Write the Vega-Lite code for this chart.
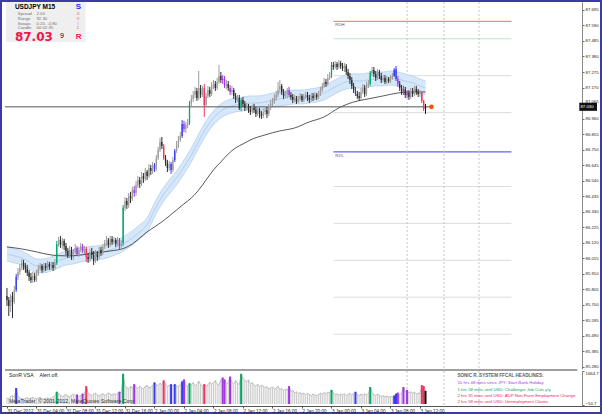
{
"$schema":"https://vega.github.io/schema/vega-lite/v6.json",
"width":602,"height":414,"autosize":{"type":"none"},"padding":0,"background":"white",
"config":{"view":{"stroke":"#3b3ba6","strokeWidth":4},"axis":{"grid":false,"labelOverlap":false,"labelBound":false}},
"datasets":{
"bars":[
{"i":0,"o":85.759,"h":85.813,"l":85.691,"c":85.732,"t":"d","v":300},
{"i":1,"o":85.732,"h":85.752,"l":85.623,"c":85.691,"t":"d","v":260},
{"i":2,"o":85.691,"h":85.772,"l":85.651,"c":85.759,"t":"u","v":380},
{"i":3,"o":85.759,"h":85.786,"l":85.610,"c":85.718,"t":"d","v":420},
{"i":4,"o":85.718,"h":85.827,"l":85.705,"c":85.799,"t":"u","v":350},
{"i":5,"o":85.799,"h":85.908,"l":85.786,"c":85.887,"t":"b","v":806},
{"i":6,"o":85.887,"h":85.948,"l":85.867,"c":85.921,"t":"u","v":380},
{"i":7,"o":85.921,"h":85.975,"l":85.901,"c":85.948,"t":"u","v":300},
{"i":8,"o":85.948,"h":86.009,"l":85.935,"c":85.982,"t":"u","v":260},
{"i":9,"o":85.982,"h":86.003,"l":85.935,"c":85.962,"t":"d","v":240},
{"i":10,"o":85.962,"h":85.982,"l":85.915,"c":85.942,"t":"d","v":280},
{"i":11,"o":85.942,"h":85.969,"l":85.894,"c":85.915,"t":"d","v":320},
{"i":12,"o":85.915,"h":85.935,"l":85.860,"c":85.887,"t":"d","v":260},
{"i":13,"o":85.887,"h":85.915,"l":85.847,"c":85.867,"t":"d","v":300},
{"i":14,"o":85.867,"h":85.921,"l":85.847,"c":85.894,"t":"u","v":340},
{"i":15,"o":85.894,"h":85.915,"l":85.854,"c":85.867,"t":"d","v":280},
{"i":16,"o":85.867,"h":85.935,"l":85.854,"c":85.908,"t":"u","v":250},
{"i":17,"o":85.908,"h":85.969,"l":85.894,"c":85.942,"t":"u","v":300},
{"i":18,"o":85.942,"h":85.982,"l":85.928,"c":85.962,"t":"u","v":330},
{"i":19,"o":85.962,"h":85.975,"l":85.915,"c":85.935,"t":"d","v":270},
{"i":20,"o":85.935,"h":85.982,"l":85.921,"c":85.962,"t":"u","v":240},
{"i":21,"o":85.962,"h":85.982,"l":85.928,"c":85.948,"t":"d","v":290},
{"i":22,"o":85.948,"h":85.996,"l":85.935,"c":85.975,"t":"u","v":310},
{"i":23,"o":85.975,"h":85.989,"l":85.935,"c":85.955,"t":"d","v":260},
{"i":24,"o":85.955,"h":85.989,"l":85.935,"c":85.969,"t":"u","v":280},
{"i":25,"o":85.969,"h":85.989,"l":85.928,"c":85.948,"t":"d","v":350},
{"i":26,"o":85.948,"h":86.009,"l":85.935,"c":85.982,"t":"u","v":420},
{"i":27,"o":85.982,"h":86.131,"l":85.969,"c":86.111,"t":"g","v":615},
{"i":28,"o":86.111,"h":86.158,"l":86.091,"c":86.138,"t":"u","v":520},
{"i":29,"o":86.138,"h":86.165,"l":86.084,"c":86.104,"t":"d","v":450},
{"i":30,"o":86.104,"h":86.151,"l":86.077,"c":86.131,"t":"u","v":380},
{"i":31,"o":86.131,"h":86.145,"l":86.070,"c":86.097,"t":"d","v":420},
{"i":32,"o":86.097,"h":86.118,"l":86.036,"c":86.063,"t":"d","v":480},
{"i":33,"o":86.063,"h":86.084,"l":86.016,"c":86.036,"t":"d","v":400},
{"i":34,"o":86.036,"h":86.097,"l":86.016,"c":86.070,"t":"u","v":360},
{"i":35,"o":86.070,"h":86.091,"l":86.003,"c":86.023,"t":"d","v":440},
{"i":36,"o":86.023,"h":86.077,"l":86.003,"c":86.057,"t":"u","v":500},
{"i":37,"o":86.057,"h":86.111,"l":86.043,"c":86.084,"t":"u","v":420},
{"i":38,"o":86.084,"h":86.097,"l":86.030,"c":86.043,"t":"m","v":472},
{"i":39,"o":86.043,"h":86.091,"l":86.023,"c":86.070,"t":"u","v":380},
{"i":40,"o":86.070,"h":86.118,"l":86.057,"c":86.097,"t":"u","v":430},
{"i":41,"o":86.097,"h":86.111,"l":86.050,"c":86.063,"t":"m","v":520},
{"i":42,"o":86.063,"h":86.097,"l":86.043,"c":86.077,"t":"u","v":460},
{"i":43,"o":86.077,"h":86.091,"l":85.989,"c":86.023,"t":"r","v":900},
{"i":44,"o":86.023,"h":86.050,"l":85.982,"c":86.009,"t":"d","v":560},
{"i":45,"o":86.009,"h":86.077,"l":85.989,"c":86.057,"t":"u","v":480},
{"i":46,"o":86.057,"h":86.084,"l":86.009,"c":86.036,"t":"d","v":420},
{"i":47,"o":86.036,"h":86.063,"l":85.969,"c":85.996,"t":"d","v":500},
{"i":48,"o":85.996,"h":86.070,"l":85.982,"c":86.043,"t":"u","v":540},
{"i":49,"o":86.043,"h":86.063,"l":85.996,"c":86.023,"t":"d","v":460},
{"i":50,"o":86.023,"h":86.091,"l":86.009,"c":86.070,"t":"u","v":400},
{"i":51,"o":86.070,"h":86.091,"l":86.030,"c":86.050,"t":"d","v":470},
{"i":52,"o":86.050,"h":86.111,"l":86.036,"c":86.091,"t":"u","v":520},
{"i":53,"o":86.091,"h":86.138,"l":86.077,"c":86.118,"t":"u","v":440},
{"i":54,"o":86.118,"h":86.165,"l":86.097,"c":86.138,"t":"u","v":480},
{"i":55,"o":86.138,"h":86.151,"l":86.084,"c":86.104,"t":"d","v":560},
{"i":56,"o":86.104,"h":86.165,"l":86.091,"c":86.145,"t":"u","v":500},
{"i":57,"o":86.145,"h":86.165,"l":86.104,"c":86.124,"t":"d","v":450},
{"i":58,"o":86.124,"h":86.158,"l":86.111,"c":86.138,"t":"u","v":520},
{"i":59,"o":86.138,"h":86.151,"l":86.091,"c":86.111,"t":"d","v":470},
{"i":60,"o":86.111,"h":86.158,"l":86.097,"c":86.138,"t":"u","v":540},
{"i":61,"o":86.138,"h":86.151,"l":86.077,"c":86.097,"t":"m","v":615},
{"i":62,"o":86.097,"h":86.138,"l":86.084,"c":86.118,"t":"u","v":560},
{"i":63,"o":86.118,"h":86.375,"l":86.097,"c":86.355,"t":"g","v":1520},
{"i":64,"o":86.355,"h":86.429,"l":86.334,"c":86.402,"t":"u","v":900},
{"i":65,"o":86.402,"h":86.422,"l":86.348,"c":86.375,"t":"d","v":820},
{"i":66,"o":86.375,"h":86.456,"l":86.355,"c":86.436,"t":"u","v":760},
{"i":67,"o":86.436,"h":86.463,"l":86.388,"c":86.416,"t":"d","v":880},
{"i":68,"o":86.416,"h":86.497,"l":86.402,"c":86.476,"t":"u","v":800},
{"i":69,"o":86.476,"h":86.503,"l":86.429,"c":86.456,"t":"m","v":1000},
{"i":70,"o":86.456,"h":86.537,"l":86.436,"c":86.510,"t":"u","v":850},
{"i":71,"o":86.510,"h":86.571,"l":86.490,"c":86.544,"t":"u","v":780},
{"i":72,"o":86.544,"h":86.564,"l":86.490,"c":86.517,"t":"d","v":900},
{"i":73,"o":86.517,"h":86.598,"l":86.503,"c":86.571,"t":"u","v":820},
{"i":74,"o":86.571,"h":86.591,"l":86.524,"c":86.551,"t":"d","v":760},
{"i":75,"o":86.551,"h":86.625,"l":86.537,"c":86.598,"t":"u","v":880},
{"i":76,"o":86.598,"h":86.612,"l":86.544,"c":86.571,"t":"d","v":940},
{"i":77,"o":86.571,"h":86.652,"l":86.558,"c":86.625,"t":"u","v":800},
{"i":78,"o":86.625,"h":86.646,"l":86.578,"c":86.605,"t":"d","v":860},
{"i":79,"o":86.605,"h":86.666,"l":86.585,"c":86.646,"t":"u","v":920},
{"i":80,"o":86.646,"h":86.659,"l":86.598,"c":86.619,"t":"b","v":1090},
{"i":81,"o":86.619,"h":86.713,"l":86.605,"c":86.693,"t":"u","v":980},
{"i":82,"o":86.693,"h":86.768,"l":86.680,"c":86.747,"t":"u","v":920},
{"i":83,"o":86.747,"h":86.829,"l":86.734,"c":86.801,"t":"u","v":1050},
{"i":84,"o":86.801,"h":86.835,"l":86.754,"c":86.774,"t":"d","v":960},
{"i":85,"o":86.774,"h":86.788,"l":86.680,"c":86.693,"t":"r","v":1190},
{"i":86,"o":86.693,"h":86.713,"l":86.639,"c":86.659,"t":"d","v":1000},
{"i":87,"o":86.659,"h":86.680,"l":86.598,"c":86.625,"t":"d","v":880},
{"i":88,"o":86.625,"h":86.673,"l":86.605,"c":86.652,"t":"u","v":940},
{"i":89,"o":86.652,"h":86.666,"l":86.585,"c":86.612,"t":"b","v":1000},
{"i":90,"o":86.612,"h":86.700,"l":86.598,"c":86.680,"t":"u","v":900},
{"i":91,"o":86.680,"h":86.754,"l":86.666,"c":86.740,"t":"b","v":1000},
{"i":92,"o":86.740,"h":86.808,"l":86.727,"c":86.781,"t":"u","v":920},
{"i":93,"o":86.781,"h":86.842,"l":86.761,"c":86.815,"t":"u","v":860},
{"i":94,"o":86.815,"h":86.869,"l":86.801,"c":86.842,"t":"u","v":980},
{"i":95,"o":86.842,"h":86.950,"l":86.829,"c":86.923,"t":"b","v":1140},
{"i":96,"o":86.923,"h":86.944,"l":86.869,"c":86.889,"t":"m","v":1235},
{"i":97,"o":86.889,"h":86.937,"l":86.862,"c":86.917,"t":"u","v":940},
{"i":98,"o":86.917,"h":86.957,"l":86.896,"c":86.930,"t":"u","v":880},
{"i":99,"o":86.930,"h":87.079,"l":86.917,"c":87.059,"t":"g","v":1045},
{"i":100,"o":87.059,"h":87.120,"l":87.045,"c":87.093,"t":"u","v":960},
{"i":101,"o":87.093,"h":87.147,"l":87.072,"c":87.120,"t":"u","v":1080},
{"i":102,"o":87.120,"h":87.174,"l":87.099,"c":87.147,"t":"u","v":900},
{"i":103,"o":87.147,"h":87.167,"l":87.079,"c":87.099,"t":"d","v":1000},
{"i":104,"o":87.099,"h":87.282,"l":87.086,"c":87.167,"t":"u","v":1150},
{"i":105,"o":87.167,"h":87.187,"l":87.099,"c":87.120,"t":"d","v":980},
{"i":106,"o":87.120,"h":87.181,"l":87.106,"c":87.153,"t":"u","v":900},
{"i":107,"o":87.167,"h":87.194,"l":86.971,"c":87.052,"t":"r","v":1000},
{"i":108,"o":87.052,"h":87.133,"l":87.032,"c":87.113,"t":"u","v":880},
{"i":109,"o":87.113,"h":87.181,"l":87.099,"c":87.153,"t":"u","v":960},
{"i":110,"o":87.153,"h":87.174,"l":87.106,"c":87.126,"t":"d","v":1100},
{"i":111,"o":87.126,"h":87.208,"l":87.113,"c":87.181,"t":"u","v":1000},
{"i":112,"o":87.181,"h":87.221,"l":87.160,"c":87.194,"t":"u","v":1060},
{"i":113,"o":87.194,"h":87.214,"l":87.147,"c":87.167,"t":"d","v":1180},
{"i":114,"o":87.167,"h":87.235,"l":87.153,"c":87.208,"t":"u","v":1000},
{"i":115,"o":87.208,"h":87.323,"l":87.194,"c":87.248,"t":"u","v":940},
{"i":116,"o":87.248,"h":87.275,"l":87.201,"c":87.221,"t":"d","v":1220},
{"i":117,"o":87.221,"h":87.255,"l":87.194,"c":87.228,"t":"m","v":1330},
{"i":118,"o":87.228,"h":87.248,"l":87.167,"c":87.181,"t":"m","v":1235},
{"i":119,"o":87.181,"h":87.221,"l":87.160,"c":87.194,"t":"u","v":1000},
{"i":120,"o":87.194,"h":87.214,"l":87.147,"c":87.167,"t":"d","v":1100},
{"i":121,"o":87.167,"h":87.187,"l":87.120,"c":87.140,"t":"m","v":1380},
{"i":122,"o":87.140,"h":87.181,"l":87.120,"c":87.153,"t":"u","v":1100},
{"i":123,"o":87.153,"h":87.167,"l":87.093,"c":87.113,"t":"d","v":1000},
{"i":124,"o":87.113,"h":87.133,"l":87.065,"c":87.086,"t":"d","v":1180},
{"i":125,"o":87.086,"h":87.120,"l":87.072,"c":87.099,"t":"u","v":1060},
{"i":126,"o":87.099,"h":87.120,"l":87.018,"c":87.032,"t":"d","v":960},
{"i":127,"o":87.032,"h":87.099,"l":87.011,"c":87.086,"t":"g","v":1520},
{"i":128,"o":87.086,"h":87.106,"l":87.038,"c":87.059,"t":"d","v":1300},
{"i":129,"o":87.059,"h":87.079,"l":87.011,"c":87.032,"t":"d","v":1200},
{"i":130,"o":87.032,"h":87.065,"l":87.018,"c":87.045,"t":"u","v":1100},
{"i":131,"o":87.045,"h":87.059,"l":86.998,"c":87.018,"t":"d","v":1220},
{"i":132,"o":87.018,"h":87.045,"l":86.984,"c":87.005,"t":"d","v":1000},
{"i":133,"o":87.005,"h":87.052,"l":86.991,"c":87.032,"t":"u","v":1080},
{"i":134,"o":87.032,"h":87.059,"l":86.998,"c":87.018,"t":"d","v":960},
{"i":135,"o":87.018,"h":87.038,"l":86.971,"c":86.991,"t":"d","v":900},
{"i":136,"o":86.991,"h":87.045,"l":86.977,"c":87.018,"t":"u","v":1000},
{"i":137,"o":87.018,"h":87.032,"l":86.964,"c":86.991,"t":"d","v":860},
{"i":138,"o":86.991,"h":87.011,"l":86.957,"c":86.977,"t":"d","v":940},
{"i":139,"o":86.977,"h":87.025,"l":86.964,"c":87.005,"t":"u","v":900},
{"i":140,"o":87.005,"h":87.045,"l":86.984,"c":87.018,"t":"u","v":820},
{"i":141,"o":87.018,"h":87.038,"l":86.964,"c":86.991,"t":"d","v":880},
{"i":142,"o":86.991,"h":87.059,"l":86.977,"c":87.032,"t":"u","v":760},
{"i":143,"o":87.032,"h":87.086,"l":87.018,"c":87.059,"t":"u","v":800},
{"i":144,"o":87.059,"h":87.099,"l":87.045,"c":87.072,"t":"u","v":860},
{"i":145,"o":87.072,"h":87.126,"l":87.059,"c":87.099,"t":"u","v":740},
{"i":146,"o":87.099,"h":87.147,"l":87.079,"c":87.120,"t":"u","v":800},
{"i":147,"o":87.120,"h":87.208,"l":87.106,"c":87.153,"t":"u","v":900},
{"i":148,"o":87.153,"h":87.221,"l":87.133,"c":87.181,"t":"u","v":720},
{"i":149,"o":87.181,"h":87.194,"l":87.120,"c":87.140,"t":"d","v":780},
{"i":150,"o":87.140,"h":87.160,"l":87.093,"c":87.113,"t":"d","v":680},
{"i":151,"o":87.113,"h":87.147,"l":87.099,"c":87.126,"t":"u","v":740},
{"i":152,"o":87.126,"h":87.167,"l":87.099,"c":87.153,"t":"u","v":700},
{"i":153,"o":87.153,"h":87.174,"l":87.106,"c":87.120,"t":"m","v":900},
{"i":154,"o":87.120,"h":87.140,"l":87.086,"c":87.106,"t":"d","v":620},
{"i":155,"o":87.106,"h":87.126,"l":87.065,"c":87.086,"t":"d","v":680},
{"i":156,"o":87.086,"h":87.120,"l":87.072,"c":87.099,"t":"u","v":560},
{"i":157,"o":87.099,"h":87.113,"l":87.059,"c":87.072,"t":"d","v":620},
{"i":158,"o":87.072,"h":87.113,"l":87.065,"c":87.093,"t":"u","v":520},
{"i":159,"o":87.093,"h":87.133,"l":87.079,"c":87.113,"t":"u","v":580},
{"i":160,"o":87.113,"h":87.126,"l":87.072,"c":87.086,"t":"d","v":500},
{"i":161,"o":87.086,"h":87.126,"l":87.072,"c":87.106,"t":"u","v":560},
{"i":162,"o":87.106,"h":87.140,"l":87.093,"c":87.120,"t":"u","v":460},
{"i":163,"o":87.120,"h":87.140,"l":87.079,"c":87.099,"t":"d","v":540},
{"i":164,"o":87.099,"h":87.120,"l":87.065,"c":87.086,"t":"d","v":480},
{"i":165,"o":87.086,"h":87.133,"l":87.072,"c":87.113,"t":"u","v":420},
{"i":166,"o":87.113,"h":87.133,"l":87.079,"c":87.099,"t":"d","v":500},
{"i":167,"o":87.099,"h":87.140,"l":87.086,"c":87.120,"t":"u","v":460},
{"i":168,"o":87.120,"h":87.133,"l":87.086,"c":87.106,"t":"d","v":420},
{"i":169,"o":87.106,"h":87.147,"l":87.093,"c":87.126,"t":"u","v":480},
{"i":170,"o":87.126,"h":87.174,"l":87.113,"c":87.153,"t":"u","v":540},
{"i":171,"o":87.153,"h":87.201,"l":87.140,"c":87.181,"t":"u","v":500},
{"i":172,"o":87.181,"h":87.235,"l":87.167,"c":87.208,"t":"u","v":580},
{"i":173,"o":87.208,"h":87.228,"l":87.174,"c":87.194,"t":"d","v":520},
{"i":174,"o":87.194,"h":87.262,"l":87.181,"c":87.235,"t":"u","v":600},
{"i":175,"o":87.235,"h":87.275,"l":87.221,"c":87.248,"t":"u","v":560},
{"i":176,"o":87.248,"h":87.343,"l":87.235,"c":87.323,"t":"g","v":710},
{"i":177,"o":87.323,"h":87.343,"l":87.289,"c":87.309,"t":"d","v":560},
{"i":178,"o":87.309,"h":87.350,"l":87.296,"c":87.329,"t":"u","v":480},
{"i":179,"o":87.329,"h":87.343,"l":87.289,"c":87.309,"t":"d","v":520},
{"i":180,"o":87.309,"h":87.357,"l":87.296,"c":87.336,"t":"u","v":440},
{"i":181,"o":87.336,"h":87.350,"l":87.296,"c":87.316,"t":"d","v":500},
{"i":182,"o":87.316,"h":87.336,"l":87.282,"c":87.302,"t":"d","v":460},
{"i":183,"o":87.302,"h":87.336,"l":87.275,"c":87.316,"t":"u","v":520},
{"i":184,"o":87.316,"h":87.329,"l":87.255,"c":87.275,"t":"d","v":420},
{"i":185,"o":87.275,"h":87.296,"l":87.228,"c":87.248,"t":"d","v":480},
{"i":186,"o":87.248,"h":87.269,"l":87.194,"c":87.221,"t":"d","v":540},
{"i":187,"o":87.221,"h":87.241,"l":87.160,"c":87.181,"t":"d","v":460},
{"i":188,"o":87.181,"h":87.201,"l":87.133,"c":87.153,"t":"d","v":500},
{"i":189,"o":87.153,"h":87.174,"l":87.113,"c":87.126,"t":"b","v":615},
{"i":190,"o":87.126,"h":87.147,"l":87.093,"c":87.113,"t":"d","v":480},
{"i":191,"o":87.113,"h":87.140,"l":87.079,"c":87.099,"t":"d","v":420},
{"i":192,"o":87.099,"h":87.167,"l":87.086,"c":87.140,"t":"u","v":500},
{"i":193,"o":87.140,"h":87.194,"l":87.126,"c":87.167,"t":"u","v":440},
{"i":194,"o":87.167,"h":87.187,"l":87.106,"c":87.126,"t":"d","v":520},
{"i":195,"o":87.126,"h":87.208,"l":87.113,"c":87.181,"t":"u","v":460},
{"i":196,"o":87.181,"h":87.221,"l":87.167,"c":87.194,"t":"u","v":520},
{"i":197,"o":87.194,"h":87.282,"l":87.181,"c":87.269,"t":"g","v":855},
{"i":198,"o":87.269,"h":87.309,"l":87.248,"c":87.289,"t":"u","v":560},
{"i":199,"o":87.289,"h":87.309,"l":87.241,"c":87.262,"t":"d","v":480},
{"i":200,"o":87.262,"h":87.282,"l":87.214,"c":87.235,"t":"d","v":420},
{"i":201,"o":87.235,"h":87.296,"l":87.221,"c":87.275,"t":"u","v":500},
{"i":202,"o":87.275,"h":87.289,"l":87.228,"c":87.248,"t":"d","v":440},
{"i":203,"o":87.248,"h":87.269,"l":87.201,"c":87.221,"t":"d","v":380},
{"i":204,"o":87.221,"h":87.255,"l":87.208,"c":87.235,"t":"u","v":420},
{"i":205,"o":87.235,"h":87.255,"l":87.194,"c":87.208,"t":"d","v":360},
{"i":206,"o":87.208,"h":87.248,"l":87.194,"c":87.228,"t":"u","v":400},
{"i":207,"o":87.228,"h":87.241,"l":87.201,"c":87.214,"t":"d","v":340},
{"i":208,"o":87.214,"h":87.255,"l":87.201,"c":87.235,"t":"u","v":380},
{"i":209,"o":87.235,"h":87.269,"l":87.221,"c":87.248,"t":"u","v":360},
{"i":210,"o":87.248,"h":87.302,"l":87.241,"c":87.289,"t":"b","v":425},
{"i":211,"o":87.296,"h":87.316,"l":87.214,"c":87.228,"t":"b","v":520},
{"i":212,"o":87.228,"h":87.248,"l":87.174,"c":87.194,"t":"m","v":570},
{"i":213,"o":87.194,"h":87.214,"l":87.147,"c":87.167,"t":"d","v":480},
{"i":214,"o":87.167,"h":87.187,"l":87.120,"c":87.140,"t":"d","v":540},
{"i":215,"o":87.140,"h":87.181,"l":87.120,"c":87.160,"t":"m","v":855},
{"i":216,"o":87.160,"h":87.174,"l":87.099,"c":87.120,"t":"d","v":600},
{"i":217,"o":87.120,"h":87.153,"l":87.099,"c":87.133,"t":"m","v":710},
{"i":218,"o":87.133,"h":87.153,"l":87.086,"c":87.106,"t":"d","v":560},
{"i":219,"o":87.106,"h":87.167,"l":87.093,"c":87.147,"t":"u","v":620},
{"i":220,"o":87.147,"h":87.167,"l":87.106,"c":87.126,"t":"d","v":540},
{"i":221,"o":87.126,"h":87.181,"l":87.113,"c":87.160,"t":"u","v":600},
{"i":222,"o":87.160,"h":87.181,"l":87.120,"c":87.140,"t":"d","v":500},
{"i":223,"o":87.140,"h":87.160,"l":87.106,"c":87.126,"t":"d","v":560},
{"i":224,"o":87.126,"h":87.153,"l":87.106,"c":87.133,"t":"u","v":520},
{"i":225,"o":87.133,"h":87.140,"l":87.065,"c":87.079,"t":"r","v":950},
{"i":226,"o":87.079,"h":87.086,"l":87.011,"c":87.025,"t":"r","v":900},
{"i":227,"o":87.032,"h":87.059,"l":86.991,"c":87.039,"t":"k","v":665}
],
"ribbon":[
{"i":0,"hi":86.091,"m":86.043,"lo":85.996},{"i":4,"hi":86.077,"m":86.030,"lo":85.982},{"i":8,"hi":86.063,"m":86.016,"lo":85.969},{"i":12,"hi":86.036,"m":85.989,"lo":85.942},{"i":16,"hi":86.009,"m":85.962,"lo":85.915},{"i":20,"hi":86.009,"m":85.962,"lo":85.915},{"i":24,"hi":86.023,"m":85.975,"lo":85.928},{"i":28,"hi":86.043,"m":85.996,"lo":85.948},{"i":32,"hi":86.063,"m":86.016,"lo":85.969},{"i":36,"hi":86.070,"m":86.023,"lo":85.975},{"i":40,"hi":86.084,"m":86.036,"lo":85.989},{"i":44,"hi":86.091,"m":86.043,"lo":85.996},{"i":48,"hi":86.097,"m":86.050,"lo":86.003},{"i":52,"hi":86.104,"m":86.057,"lo":86.009},{"i":56,"hi":86.118,"m":86.070,"lo":86.023},{"i":60,"hi":86.138,"m":86.091,"lo":86.043},{"i":64,"hi":86.165,"m":86.118,"lo":86.070},{"i":68,"hi":86.199,"m":86.151,"lo":86.104},{"i":72,"hi":86.240,"m":86.192,"lo":86.145},{"i":76,"hi":86.287,"m":86.240,"lo":86.192},{"i":80,"hi":86.388,"m":86.341,"lo":86.294},{"i":84,"hi":86.476,"m":86.429,"lo":86.382},{"i":88,"hi":86.544,"m":86.497,"lo":86.449},{"i":92,"hi":86.605,"m":86.558,"lo":86.510},{"i":96,"hi":86.680,"m":86.632,"lo":86.585},{"i":100,"hi":86.761,"m":86.713,"lo":86.666},{"i":104,"hi":86.856,"m":86.808,"lo":86.761},{"i":108,"hi":86.944,"m":86.896,"lo":86.849},{"i":112,"hi":87.011,"m":86.964,"lo":86.917},{"i":116,"hi":87.059,"m":87.011,"lo":86.964},{"i":120,"hi":87.086,"m":87.038,"lo":86.991},{"i":124,"hi":87.099,"m":87.052,"lo":87.005},{"i":128,"hi":87.106,"m":87.059,"lo":87.011},{"i":132,"hi":87.113,"m":87.065,"lo":87.018},{"i":136,"hi":87.113,"m":87.065,"lo":87.018},{"i":140,"hi":87.120,"m":87.072,"lo":87.025},{"i":144,"hi":87.133,"m":87.086,"lo":87.038},{"i":148,"hi":87.140,"m":87.093,"lo":87.045},{"i":152,"hi":87.147,"m":87.099,"lo":87.052},{"i":156,"hi":87.153,"m":87.106,"lo":87.059},{"i":160,"hi":87.153,"m":87.106,"lo":87.059},{"i":164,"hi":87.160,"m":87.113,"lo":87.065},{"i":168,"hi":87.167,"m":87.120,"lo":87.072},{"i":172,"hi":87.181,"m":87.133,"lo":87.086},{"i":176,"hi":87.208,"m":87.160,"lo":87.113},{"i":180,"hi":87.235,"m":87.187,"lo":87.140},{"i":184,"hi":87.255,"m":87.208,"lo":87.160},{"i":188,"hi":87.262,"m":87.214,"lo":87.167},{"i":192,"hi":87.262,"m":87.214,"lo":87.167},{"i":196,"hi":87.269,"m":87.221,"lo":87.174},{"i":200,"hi":87.275,"m":87.228,"lo":87.181},{"i":204,"hi":87.275,"m":87.228,"lo":87.181},{"i":208,"hi":87.282,"m":87.235,"lo":87.187},{"i":212,"hi":87.275,"m":87.228,"lo":87.181},{"i":216,"hi":87.262,"m":87.214,"lo":87.167},{"i":220,"hi":87.248,"m":87.201,"lo":87.153},{"i":224,"hi":87.228,"m":87.181,"lo":87.133},{"i":227,"hi":87.214,"m":87.167,"lo":87.120}
],
"ma":[
{"i":0,"m":86.091},{"i":8,"m":86.077},{"i":16,"m":86.057},{"i":24,"m":86.036},{"i":32,"m":86.030},{"i":40,"m":86.036},{"i":48,"m":86.050},{"i":56,"m":86.063},{"i":64,"m":86.084},{"i":68,"m":86.111},{"i":72,"m":86.151},{"i":76,"m":86.192},{"i":80,"m":86.226},{"i":84,"m":86.260},{"i":88,"m":86.300},{"i":92,"m":86.341},{"i":96,"m":86.382},{"i":100,"m":86.422},{"i":104,"m":86.476},{"i":108,"m":86.544},{"i":112,"m":86.612},{"i":116,"m":86.666},{"i":120,"m":86.720},{"i":124,"m":86.761},{"i":128,"m":86.788},{"i":132,"m":86.815},{"i":140,"m":86.849},{"i":148,"m":86.876},{"i":156,"m":86.896},{"i":164,"m":86.937},{"i":172,"m":86.971},{"i":180,"m":87.032},{"i":188,"m":87.072},{"i":196,"m":87.093},{"i":204,"m":87.113},{"i":212,"m":87.133},{"i":220,"m":87.140},{"i":227,"m":87.140}
],
"levels":[
{"p":87.618,"k":"RDH","a":177.1,"b":273.6},{"p":87.5,"k":"q5","a":177.1,"b":273.6},{"p":87.25,"k":"q","a":177.1,"b":273.6},{"p":87.0,"k":"q","a":177.1,"b":273.6},{"p":86.734,"k":"RDL","a":177.1,"b":273.6},{"p":86.5,"k":"q","a":177.1,"b":273.6},{"p":86.25,"k":"q","a":177.1,"b":273.6},{"p":86.0,"k":"q","a":177.1,"b":273.6},{"p":85.75,"k":"q","a":177.1,"b":273.6},{"p":85.5,"k":"q","a":177.1,"b":273.6}
],
"vlines":[{"i":217},{"i":237},{"i":256}],
"mtext":[
{"i":4.3,"p":87.715,"s":"USDJPY  M15","k":"sym"},
{"i":37.3,"p":87.715,"s":"S","k":"S"},
{"i":5.9,"p":87.668,"s":"Spread","k":"stat"},{"i":16.0,"p":87.668,"s":"2.00","k":"stat"},
{"i":5.9,"p":87.634,"s":"Range","k":"stat"},{"i":16.0,"p":87.634,"s":"92.30","k":"stat"},
{"i":5.9,"p":87.600,"s":"Swaps","k":"stat"},{"i":16.0,"p":87.600,"s":"0.20, -0.80","k":"stat"},
{"i":5.9,"p":87.573,"s":"Candle","k":"stat"},{"i":16.0,"p":87.573,"s":"00:02:35","k":"stat"},
{"i":37.9,"p":87.668,"s":"o","k":"onic"},{"i":37.9,"p":87.634,"s":"n","k":"onic"},{"i":38.2,"p":87.600,"s":"i","k":"onic"},{"i":37.9,"p":87.573,"s":"c","k":"onic"},
{"i":4.3,"p":87.512,"s":"87.03","k":"big"},
{"i":28.8,"p":87.519,"s":"9","k":"digit"},
{"i":37.3,"p":87.512,"s":"R","k":"R"},
{"i":178.1,"p":87.595,"s":"RDH","k":"lvl"},
{"i":178.1,"p":86.707,"s":"RDL","k":"lvl"},
{"i":311.0,"p":87.039,"s":"87.030","k":"tag"}
],
"vtext":[
{"i":1.07,"v":1463,"s":"SonR VSA","k":"vsa"},
{"i":17.6,"v":1463,"s":"Alert off.","k":"vsa"},
{"i":1.07,"v":171,"s":"MetaTrader, © 2001-2012, MetaQuotes Software Corp","k":"copy"},
{"i":244.3,"v":1428,"s":"SONIC R. SYSTEM  FFCAL HEADLINES:","k":"head"},
{"i":244.3,"v":1044,"s":"10 hrs 48 mins since JPY: Start Bank Holiday","k":"hp"},
{"i":244.3,"v":721,"s":"1 hrs 58 mins until USD: Challenger Job Cuts y/y","k":"hg"},
{"i":244.3,"v":419,"s":"2 hrs 35 mins until USD: ADP Non-Farm Employment Change","k":"hr"},
{"i":244.3,"v":101,"s":"2 hrs 58 mins until USD: Unemployment Claims","k":"hr"}
]
},
"resolve":{"scale":{"y":"independent"},"axis":{"y":"independent"}},
"layer":[
{"layer":[
{"data":{"name":"bars"},"mark":{"type":"rule","strokeWidth":1,"opacity":0},
 "encoding":{
  "x":{"field":"i","type":"quantitative","scale":{"domain":[-1.0667,320],"nice":false,"zero":false},
   "axis":{"orient":"bottom","offset":-8,"values":[0,16,32,48,64,80,96,112,128,144,160,176,192,208,224],"tickCount":40,
    "labelExpr":"['31 Dec 2012','31 Dec 04:00','31 Dec 08:00','31 Dec 12:00','31 Dec 16:00','2 Jan 00:00','2 Jan 04:00','2 Jan 08:00','2 Jan 12:00','2 Jan 16:00','2 Jan 20:00','3 Jan 00:00','3 Jan 04:00','3 Jan 08:00','3 Jan 12:00'][round(datum.value/16)]",
    "title":null,"grid":false,"labelAlign":"left","labelBaseline":"top","labelFont":"Liberation Sans","labelFontSize":4.6,"labelColor":"#222222","tickSize":2,"tickColor":"#555555","domainColor":"#555555","labelPadding":0,"labelOverlap":false,"labelFlush":false,"labelBound":false}},
  "y":{"field":"l","type":"quantitative","scale":{"domain":[85.264,87.749],"range":[369,2],"nice":false,"zero":false},
   "axis":{"orient":"right","offset":-20,"values":[87.695,87.59,87.485,87.38,87.275,87.17,87.065,86.96,86.855,86.75,86.645,86.54,86.435,86.33,86.225,86.12,86.015,85.91,85.805,85.7,85.595,85.49,85.385,85.28],"tickCount":60,
    "format":".3f","title":null,"grid":false,"labelFont":"Liberation Sans","labelFontSize":4.3,"labelColor":"#222222","tickSize":2,"tickColor":"#666666","domainColor":"#8a8a8a","labelPadding":1,"labelFlush":false,"labelOverlap":false,"labelBound":false,
    "labelBaseline":{"condition":{"test":"abs(datum.value-87.065)<0.001","value":"bottom"},"value":"middle"}}},
  "y2":{"field":"h"}}},
{"data":{"name":"levels"},"mark":{"type":"rule","strokeWidth":1},
 "encoding":{"x":{"field":"a","type":"quantitative"},"x2":{"field":"b"},"y":{"field":"p","type":"quantitative"},
  "stroke":{"field":"k","type":"nominal","scale":{"domain":["RDH","q5","q","RDL"],"range":["#ff6a6a","#b0eecc","#dcdcdc","#3a3aff"]},"legend":null}}},
{"data":{"name":"vlines"},"mark":{"type":"rule","strokeDash":[2,2],"color":"#c4c4c4","strokeWidth":1},
 "encoding":{"x":{"field":"i","type":"quantitative"},"y":{"datum":87.749},"y2":{"datum":85.264}}},
{"data":{"name":"ribbon"},"mark":{"type":"area","color":"#d5e7f8","interpolate":"monotone"},
 "encoding":{"x":{"field":"i","type":"quantitative"},"y":{"field":"hi","type":"quantitative"},"y2":{"field":"lo"}}},
{"data":{"name":"ribbon"},"mark":{"type":"line","color":"#b2d1f0","strokeWidth":0.8,"interpolate":"monotone"},
 "encoding":{"x":{"field":"i","type":"quantitative"},"y":{"field":"hi","type":"quantitative"}}},
{"data":{"name":"ribbon"},"mark":{"type":"line","color":"#b2d1f0","strokeWidth":0.8,"interpolate":"monotone"},
 "encoding":{"x":{"field":"i","type":"quantitative"},"y":{"field":"lo","type":"quantitative"}}},
{"data":{"name":"ribbon"},"mark":{"type":"line","color":"#a2c6ec","strokeWidth":0.7,"interpolate":"monotone"},
 "encoding":{"x":{"field":"i","type":"quantitative"},"y":{"field":"m","type":"quantitative"}}},
{"data":{"name":"ma"},"mark":{"type":"line","color":"#2e2e2e","strokeWidth":0.8,"interpolate":"monotone"},
 "encoding":{"x":{"field":"i","type":"quantitative"},"y":{"field":"m","type":"quantitative"}}},
{"data":{"values":[{}]},"mark":{"type":"rule","color":"#555555","strokeWidth":1},
 "encoding":{"x":{"datum":-1.07},"x2":{"datum":229.5},"y":{"datum":87.039}}},
{"data":{"name":"bars"},"mark":{"type":"rule","strokeWidth":1},
 "encoding":{"x":{"field":"i","type":"quantitative"},"y":{"field":"l","type":"quantitative"},"y2":{"field":"h"},
  "color":{"field":"t","type":"nominal","scale":{"domain":["u","d","b","g","r","m","k"],"range":["#9c9c9c","#2c2c2c","#3a3af5","#00a865","#f2315e","#a334e6","#111111"]},"legend":null}}},
{"data":{"name":"bars"},"mark":{"type":"bar","size":1.3},
 "encoding":{"x":{"field":"i","type":"quantitative"},"y":{"field":"o","type":"quantitative"},"y2":{"field":"c"},
  "color":{"field":"t","type":"nominal","scale":{"domain":["u","d","b","g","r","m","k"],"range":["#9c9c9c","#2c2c2c","#3a3af5","#00a865","#f2315e","#a334e6","#111111"]},"legend":null}}},
{"data":{"values":[{}]},"mark":{"type":"point","filled":true,"color":"#ff5200","size":22,"opacity":1},
 "encoding":{"x":{"datum":230.2},"y":{"datum":87.039}}},
{"data":{"values":[{}]},"mark":{"type":"rect","color":"#efefef"},
 "encoding":{"x":{"datum":-0.5},"x2":{"datum":42.67},"y":{"datum":87.749},"y2":{"datum":87.478}}},
{"data":{"values":[{}]},"mark":{"type":"rect","color":"#111111"},
 "encoding":{"x":{"datum":310.4},"x2":{"datum":320},"y":{"datum":87.067},"y2":{"datum":87.012}}},
{"data":{"values":[{}]},"mark":{"type":"rule","color":"#a0a0a0","strokeWidth":2},
 "encoding":{"x":{"datum":-1.07},"x2":{"datum":309.3},"y":{"datum":85.258}}},
{"data":{"name":"mtext"},"transform":[{"filter":{"field":"k","oneOf":["sym"]}}],
 "mark":{"type":"text","align":"left","baseline":"middle","font":"Liberation Sans","fontWeight":"bold","fontSize":6.5},
 "encoding":{"x":{"field":"i","type":"quantitative"},"y":{"field":"p","type":"quantitative"},"text":{"field":"s"},
  "fill":{"field":"k","type":"nominal","scale":{"domain":["sym","S","stat","onic","big","digit","R","lvl","tag","vsa","copy","head","hp","hg","hr"],"range":["#000000","#2b2bff","#707070","#d47a9a","#f0164a","#000000","#f0164a","#5a4a8c","#ffffff","#222222","#333333","#606060","#a23cf0","#12a24e","#f0245e"]},"legend":null}}},
{"data":{"name":"mtext"},"transform":[{"filter":{"field":"k","oneOf":["S","R"]}}],
 "mark":{"type":"text","align":"left","baseline":"middle","font":"Liberation Sans","fontWeight":"bold","fontSize":8},
 "encoding":{"x":{"field":"i","type":"quantitative"},"y":{"field":"p","type":"quantitative"},"text":{"field":"s"},
  "fill":{"field":"k","type":"nominal","scale":{"domain":["sym","S","stat","onic","big","digit","R","lvl","tag","vsa","copy","head","hp","hg","hr"],"range":["#000000","#2b2bff","#707070","#d47a9a","#f0164a","#000000","#f0164a","#5a4a8c","#ffffff","#222222","#333333","#606060","#a23cf0","#12a24e","#f0245e"]},"legend":null}}},
{"data":{"name":"mtext"},"transform":[{"filter":{"field":"k","oneOf":["stat","lvl","tag"]}}],
 "mark":{"type":"text","align":"left","baseline":"middle","font":"Liberation Sans","fontSize":4.3},
 "encoding":{"x":{"field":"i","type":"quantitative"},"y":{"field":"p","type":"quantitative"},"text":{"field":"s"},
  "fill":{"field":"k","type":"nominal","scale":{"domain":["sym","S","stat","onic","big","digit","R","lvl","tag","vsa","copy","head","hp","hg","hr"],"range":["#000000","#2b2bff","#707070","#d47a9a","#f0164a","#000000","#f0164a","#5a4a8c","#ffffff","#222222","#333333","#606060","#a23cf0","#12a24e","#f0245e"]},"legend":null}}},
{"data":{"name":"mtext"},"transform":[{"filter":{"field":"k","oneOf":["onic"]}}],
 "mark":{"type":"text","align":"left","baseline":"middle","font":"Liberation Sans","fontSize":4.8},
 "encoding":{"x":{"field":"i","type":"quantitative"},"y":{"field":"p","type":"quantitative"},"text":{"field":"s"},
  "fill":{"field":"k","type":"nominal","scale":{"domain":["sym","S","stat","onic","big","digit","R","lvl","tag","vsa","copy","head","hp","hg","hr"],"range":["#000000","#2b2bff","#707070","#d47a9a","#f0164a","#000000","#f0164a","#5a4a8c","#ffffff","#222222","#333333","#606060","#a23cf0","#12a24e","#f0245e"]},"legend":null}}},
{"data":{"name":"mtext"},"transform":[{"filter":{"field":"k","oneOf":["big"]}}],
 "mark":{"type":"text","align":"left","baseline":"middle","font":"DejaVu Sans","fontWeight":"bold","fontSize":12},
 "encoding":{"x":{"field":"i","type":"quantitative"},"y":{"field":"p","type":"quantitative"},"text":{"field":"s"},
  "fill":{"field":"k","type":"nominal","scale":{"domain":["sym","S","stat","onic","big","digit","R","lvl","tag","vsa","copy","head","hp","hg","hr"],"range":["#000000","#2b2bff","#707070","#d47a9a","#f0164a","#000000","#f0164a","#5a4a8c","#ffffff","#222222","#333333","#606060","#a23cf0","#12a24e","#f0245e"]},"legend":null}}},
{"data":{"name":"mtext"},"transform":[{"filter":{"field":"k","oneOf":["digit"]}}],
 "mark":{"type":"text","align":"left","baseline":"middle","font":"Liberation Sans","fontSize":7},
 "encoding":{"x":{"field":"i","type":"quantitative"},"y":{"field":"p","type":"quantitative"},"text":{"field":"s"},
  "fill":{"field":"k","type":"nominal","scale":{"domain":["sym","S","stat","onic","big","digit","R","lvl","tag","vsa","copy","head","hp","hg","hr"],"range":["#000000","#2b2bff","#707070","#d47a9a","#f0164a","#000000","#f0164a","#5a4a8c","#ffffff","#222222","#333333","#606060","#a23cf0","#12a24e","#f0245e"]},"legend":null}}}
]},
{"layer":[
{"data":{"name":"bars"},"mark":{"type":"bar","size":1.1,"color":"#cdcdcd"},
 "encoding":{"x":{"field":"i","type":"quantitative"},
  "y":{"field":"v","type":"quantitative","scale":{"domain":[-50.7,1664.7],"range":[405,371],"nice":false,"zero":false},
   "axis":{"orient":"right","offset":-20,"values":[1664.7,-50.7],"tickCount":10,"format":".1f","title":null,"grid":false,"labelFlush":true,"labelOverlap":false,"labelFont":"Liberation Sans","labelFontSize":4.3,"labelColor":"#222222","tickSize":2,"tickColor":"#666666","domainColor":"#8a8a8a","labelPadding":1}},
  "y2":{"datum":0}}},
{"data":{"name":"vlines"},"mark":{"type":"rule","strokeDash":[2,2],"color":"#c4c4c4","strokeWidth":1},
 "encoding":{"x":{"field":"i","type":"quantitative"},"y":{"datum":1664.7},"y2":{"datum":-50.7}}},
{"data":{"name":"bars"},"mark":{"type":"line","color":"#a8a8a8","strokeWidth":0.7},
 "encoding":{"x":{"field":"i","type":"quantitative"},"y":{"field":"v","type":"quantitative"}}},
{"data":{"name":"bars"},"transform":[{"filter":{"field":"t","oneOf":["b","g","r","m","k"]}}],"mark":{"type":"bar","size":2},
 "encoding":{"x":{"field":"i","type":"quantitative"},"y":{"field":"v","type":"quantitative"},"y2":{"datum":0},
  "color":{"field":"t","type":"nominal","scale":{"domain":["u","d","b","g","r","m","k"],"range":["#9c9c9c","#2c2c2c","#3a3af5","#00a865","#f2315e","#a334e6","#111111"]},"legend":null}}},
{"data":{"name":"vtext"},"transform":[{"filter":{"field":"k","oneOf":["vsa","copy"]}}],
 "mark":{"type":"text","align":"left","baseline":"middle","font":"Liberation Sans","fontSize":5.2},
 "encoding":{"x":{"field":"i","type":"quantitative"},"y":{"field":"v","type":"quantitative"},"text":{"field":"s"},
  "fill":{"field":"k","type":"nominal","scale":{"domain":["sym","S","stat","onic","big","digit","R","lvl","tag","vsa","copy","head","hp","hg","hr"],"range":["#000000","#2b2bff","#707070","#d47a9a","#f0164a","#000000","#f0164a","#5a4a8c","#ffffff","#222222","#333333","#606060","#a23cf0","#12a24e","#f0245e"]},"legend":null}}},
{"data":{"name":"vtext"},"transform":[{"filter":{"field":"k","oneOf":["head"]}}],
 "mark":{"type":"text","align":"left","baseline":"middle","font":"Liberation Sans","fontWeight":"bold","fontSize":4.6},
 "encoding":{"x":{"field":"i","type":"quantitative"},"y":{"field":"v","type":"quantitative"},"text":{"field":"s"},
  "fill":{"field":"k","type":"nominal","scale":{"domain":["sym","S","stat","onic","big","digit","R","lvl","tag","vsa","copy","head","hp","hg","hr"],"range":["#000000","#2b2bff","#707070","#d47a9a","#f0164a","#000000","#f0164a","#5a4a8c","#ffffff","#222222","#333333","#606060","#a23cf0","#12a24e","#f0245e"]},"legend":null}}},
{"data":{"name":"vtext"},"transform":[{"filter":{"field":"k","oneOf":["hp","hg","hr"]}}],
 "mark":{"type":"text","align":"left","baseline":"middle","font":"Liberation Sans","fontSize":4.3},
 "encoding":{"x":{"field":"i","type":"quantitative"},"y":{"field":"v","type":"quantitative"},"text":{"field":"s"},
  "fill":{"field":"k","type":"nominal","scale":{"domain":["sym","S","stat","onic","big","digit","R","lvl","tag","vsa","copy","head","hp","hg","hr"],"range":["#000000","#2b2bff","#707070","#d47a9a","#f0164a","#000000","#f0164a","#5a4a8c","#ffffff","#222222","#333333","#606060","#a23cf0","#12a24e","#f0245e"]},"legend":null}}}
]}
]
}
